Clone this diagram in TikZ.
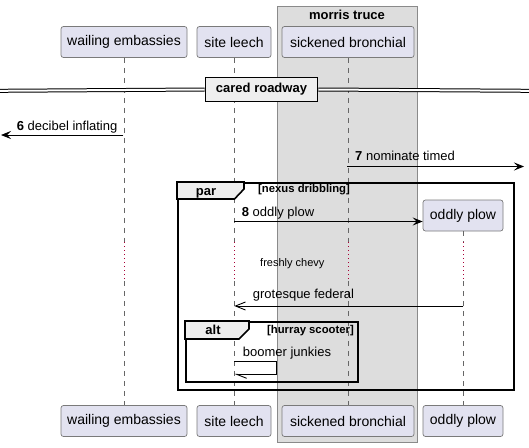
\documentclass[tikz,border=0pt]{standalone}
\usepackage{fontspec}
\setmainfont{Liberation Sans}
\usetikzlibrary{arrows.meta}
\definecolor{partfill}{HTML}{E2E2F0}
\definecolor{partline}{HTML}{7A7A7A}
\definecolor{boxfill}{HTML}{DDDDDD}
\definecolor{boxline}{HTML}{8A8A8A}
\definecolor{tabfill}{HTML}{EEEEEE}
\definecolor{delayred}{HTML}{A80036}
\definecolor{lifecol}{HTML}{666666}
\begin{document}
\begin{tikzpicture}[x=1pt,y=-1pt,
  part/.style={draw=partline, fill=partfill, rounded corners=2.5pt, line width=0.7pt,
    minimum height=31pt, inner sep=0pt, font=\fontsize{14}{16}\selectfont},
  life/.style={draw=lifecol, line width=0.7pt, dash pattern=on 5pt off 5pt},
  delayline/.style={draw=delayred, line width=0.8pt, dash pattern=on 1pt off 3pt},
  msg/.style={line width=0.9pt, -{Stealth[length=10pt,width=8pt,inset=4pt]}},
  ret/.style={line width=0.9pt, -{Straight Barb[length=10pt,width=8pt]}},
  halfret/.style={line width=0.9pt, -{Straight Barb[length=10pt,width=8pt,left]}},
  lbl/.style={anchor=base west, inner sep=0pt, font=\fontsize{13}{15}\selectfont},
  small/.style={anchor=base west, inner sep=0pt, font=\fontsize{11}{13}\selectfont},
  framebox/.style={draw=black, line width=1.6pt, inner sep=0pt, anchor=north west},
  tab/.style={draw=black, line width=1.6pt, fill=tabfill, line join=miter},
  tablbl/.style={anchor=base, inner sep=0pt, font=\fontsize{13}{15}\selectfont\bfseries},
  guard/.style={inner sep=0pt, font=\fontsize{11.3}{13}\selectfont\bfseries}
]
\useasboundingbox (0,0) rectangle (529,447);

% group box
\node[draw=boxline, fill=boxfill, line width=0.8pt, minimum width=140pt, minimum height=436pt,
  inner sep=0pt, anchor=north west] (grp) at (277,6) {};
\node[anchor=base, inner sep=0pt, font=\fontsize{13}{15}\selectfont\bfseries] (grpt) at (347,19) {morris truce};

% participants
\node[part, minimum width=126pt] (we) at (124,42) {wailing embassies};
\node[part, minimum width=74pt] (sl) at (234,42) {site leech};
\node[part, minimum width=132pt] (sb) at (348,42) {sickened bronchial};
\node[part, minimum width=126pt] (weB) at (124,421) {wailing embassies};
\node[part, minimum width=74pt] (slB) at (234,421) {site leech};
\node[part, minimum width=132pt] (sbB) at (348,421) {sickened bronchial};
\node[part, minimum width=80pt] (opB) at (463,421) {oddly plow};

% delay levels
\coordinate (d1) at (0,242);
\coordinate (d2) at (0,281);

% lifelines
\foreach \p in {we,sl,sb}{
  \draw[life] (\p.south) -- (\p.south |- d1);
  \draw[delayline] (\p.south |- d1) -- (\p.south |- d2);
  \draw[life] (\p.south |- d2) -- (\p B.north);
}
\node[part, minimum width=80pt] (op) at (463,215.5) {oddly plow};
\draw[life] (op.south) -- (op.south |- d1);
\draw[delayline] (op.south |- d1) -- (op.south |- d2);
\draw[life] (op.south |- d2) -- (opB.north);

% divider
\coordinate (dl) at (0,90.8);
\coordinate (dr) at (529,90.8);
\node[draw=black, line width=1.8pt, fill=tabfill, minimum width=112pt, minimum height=24pt,
  inner sep=0pt, font=\fontsize{13}{15}\selectfont\bfseries] (div) at (261.5,89.5) {cared roadway};
\draw[double, double distance=2pt, line width=1pt] (dl) -- (div.west);
\draw[double, double distance=2pt, line width=1pt] (div.east) -- (dr);

% message 6
\coordinate (m6a) at (123.3,135);
\coordinate (m6b) at (1,135);
\draw[msg] (m6a) -- (m6b);
\node[lbl] (l6) at (16.7,130.5) {\textbf{6} decibel inflating};

% message 7
\coordinate (m7a) at (347.3,166.5);
\coordinate (m7b) at (524,166.5);
\draw[msg] (m7a) -- (m7b);
\node[lbl] (l7) at (355,160.5) {\textbf{7} nominate timed};

% par frame
\node[framebox, minimum width=336pt, minimum height=207pt] (par) at (177,182) {};
\draw[tab] (177,182) -- (244,182) -- (244,189) -- (234.5,199) -- (177,199) -- cycle;
\node[tablbl] (part) at (206,195.5) {par};
\node[guard, anchor=base west] (parg) at (258,192.5) {[nexus dribbling]};

% message 8
\coordinate (m8a) at (234.3,221.5);
\draw[msg] (m8a) -- (m8a -| op.west);
\node[lbl] (l8) at (241.7,216.5) {\textbf{8} oddly plow};

% delay text
\node[small] (dly) at (260,266.5) {freshly chevy};

% return message
\coordinate (m9a) at (463.3,306);
\coordinate (m9b) at (234.3,306);
\draw[ret] (m9a) -- (m9b);
\node[lbl] (l9) at (252.7,298) {grotesque federal};

% alt frame
\node[framebox, minimum width=172pt, minimum height=60pt] (alt) at (185,321) {};
\draw[tab] (185,321) -- (249,321) -- (249,329) -- (239,339) -- (185,339) -- cycle;
\node[tablbl] (altt) at (213,334) {alt};
\node[guard, anchor=base east] (altg) at (354,333) {[hurray scooter]};

% self message
\coordinate (s1) at (234.3,361.5);
\coordinate (s2) at (276.7,361.5);
\coordinate (s3) at (276.7,374.3);
\coordinate (s4) at (234.3,374.3);
\draw[halfret] (s1) -- (s2) -- (s3) -- (s4);
\node[lbl] (l10) at (242.7,356.3) {boomer junkies};
\end{tikzpicture}
\end{document}
